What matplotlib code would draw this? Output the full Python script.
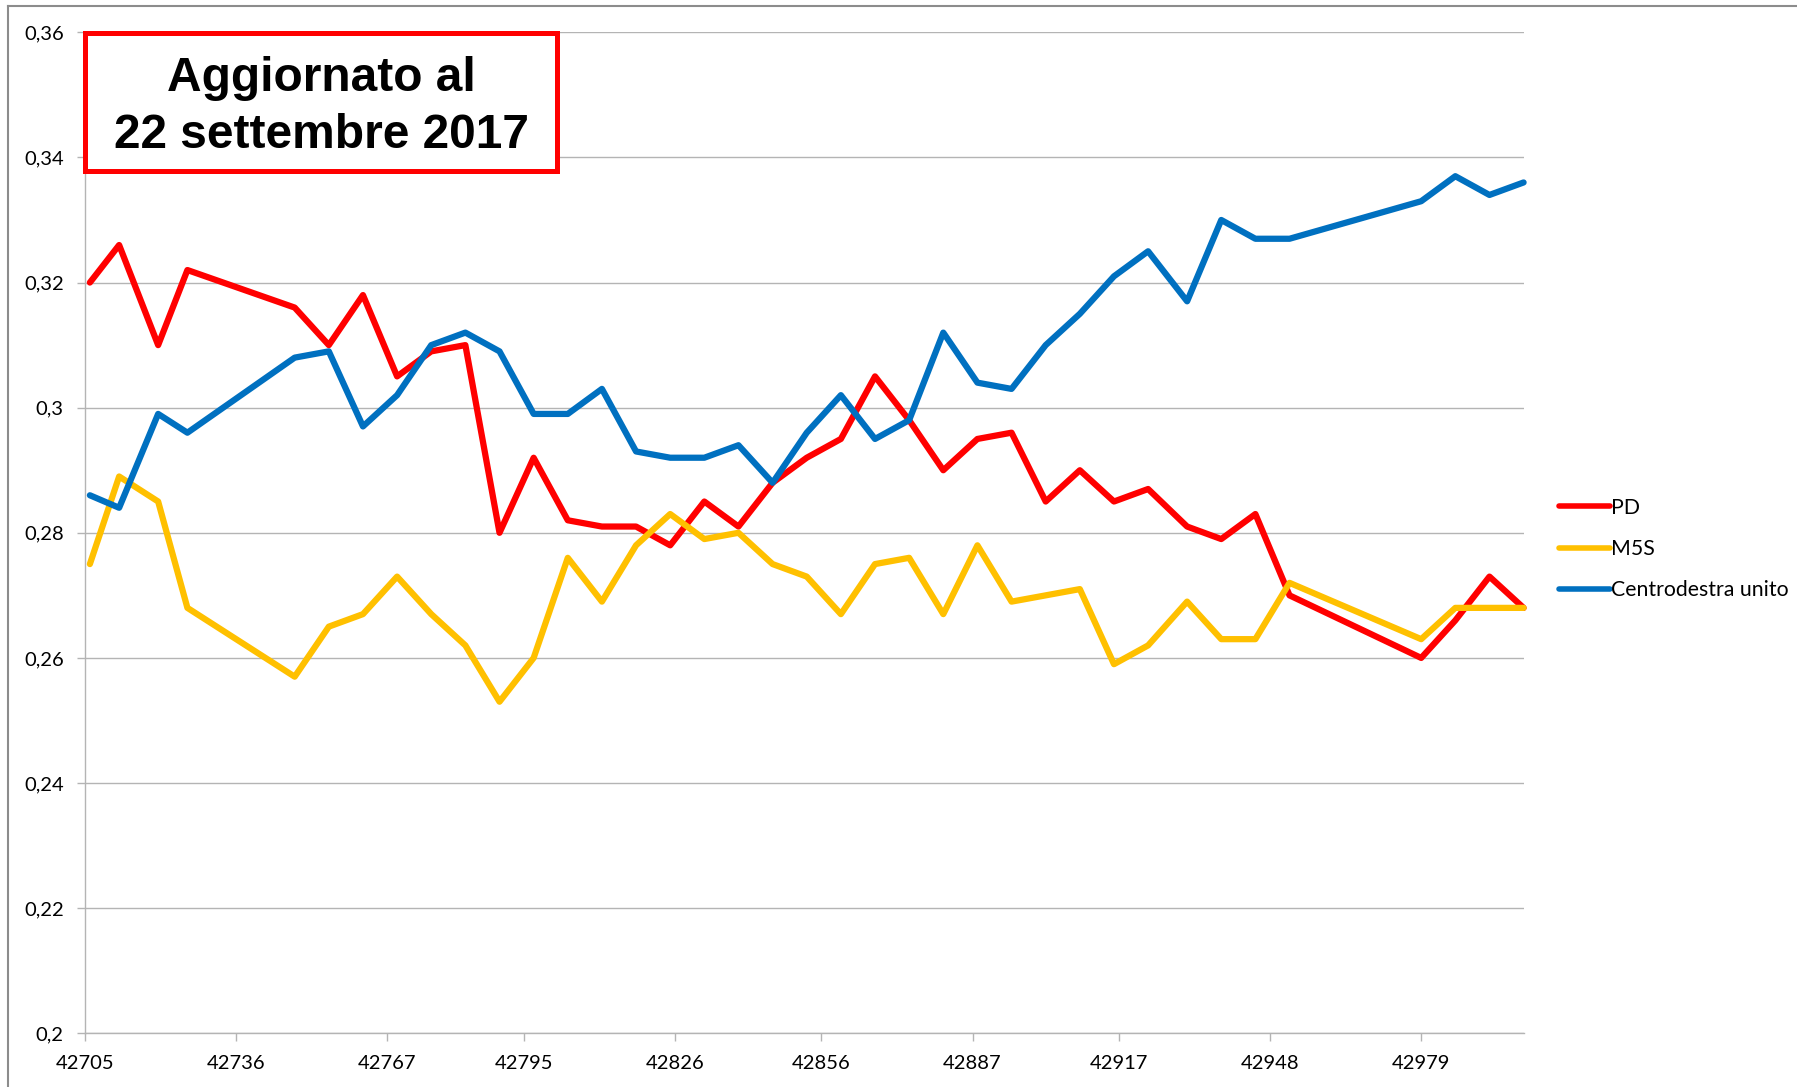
import matplotlib
matplotlib.use("Agg")
import matplotlib.pyplot as plt
from matplotlib.lines import Line2D
from matplotlib.patches import Rectangle
from matplotlib.ticker import FixedLocator, FuncFormatter

# ---- data ----
dates = [42706, 42712, 42720, 42726, 42748, 42755, 42762, 42769, 42776, 42783,
         42790, 42797, 42804, 42811, 42818, 42825, 42832, 42839, 42846, 42853,
         42860, 42867, 42874, 42881, 42888, 42895, 42902, 42909, 42916, 42923,
         42931, 42938, 42945, 42952, 42979, 42986, 42993, 43000]

pd_vals = [0.320, 0.326, 0.310, 0.322, 0.316, 0.310, 0.318, 0.305, 0.309, 0.310,
           0.280, 0.292, 0.282, 0.281, 0.281, 0.278, 0.285, 0.281, 0.288, 0.292,
           0.295, 0.305, 0.298, 0.290, 0.295, 0.296, 0.285, 0.290, 0.285, 0.287,
           0.281, 0.279, 0.283, 0.270, 0.260, 0.266, 0.273, 0.268]

m5s_vals = [0.275, 0.289, 0.285, 0.268, 0.257, 0.265, 0.267, 0.273, 0.267, 0.262,
            0.253, 0.260, 0.276, 0.269, 0.278, 0.283, 0.279, 0.280, 0.275, 0.273,
            0.267, 0.275, 0.276, 0.267, 0.278, 0.269, 0.270, 0.271, 0.259, 0.262,
            0.269, 0.263, 0.263, 0.272, 0.263, 0.268, 0.268, 0.268]

cdx_vals = [0.286, 0.284, 0.299, 0.296, 0.308, 0.309, 0.297, 0.302, 0.310, 0.312,
            0.309, 0.299, 0.299, 0.303, 0.293, 0.292, 0.292, 0.294, 0.288, 0.296,
            0.302, 0.295, 0.298, 0.312, 0.304, 0.303, 0.310, 0.315, 0.321, 0.325,
            0.317, 0.330, 0.327, 0.327, 0.333, 0.337, 0.334, 0.336]

series_names = ["PD", "M5S", "Centrodestra unito"]
series_colors = ["#FF0000", "#FFC000", "#0070C0"]

x_ticks = [42705, 42736, 42767, 42795, 42826, 42856, 42887, 42917, 42948, 42979]
y_ticks = [0.20, 0.22, 0.24, 0.26, 0.28, 0.30, 0.32, 0.34, 0.36]

title_lines = ["Aggiornato al", "22 settembre 2017"]

# ---- figure ----
W, H = 1797, 1087
fig = plt.figure(figsize=(W / 100, H / 100), dpi=100)
fig.patch.set_facecolor("white")

def fx(px):
    return px / W

def fy(py):
    return 1 - py / H

left, right, top, bottom = 85, 1523.6, 32.3, 1033.3
ax = fig.add_axes([fx(left), fy(bottom), fx(right - left), (bottom - top) / H])

grid_c = "#B4B4B4"
tick_font = "Lato"

for vals, name, col in zip([pd_vals, m5s_vals, cdx_vals], series_names, series_colors):
    ax.plot(dates, vals, color=col, lw=4.5, solid_capstyle="round",
            solid_joinstyle="round", label=name, clip_on=False, zorder=3)

ax.set_xlim(42705, 43000)
ax.set_ylim(0.2, 0.36)
ax.xaxis.set_major_locator(FixedLocator(x_ticks))
ax.yaxis.set_major_locator(FixedLocator(y_ticks))
ax.xaxis.set_major_formatter(FuncFormatter(lambda v, p: f"{int(round(v))}"))

def yfmt(v, p):
    s = f"{v:.2f}".rstrip("0").rstrip(".")
    return s.replace(".", ",")

ax.yaxis.set_major_formatter(FuncFormatter(yfmt))

ax.grid(axis="y", color=grid_c, lw=1.0, zorder=0)
for s in ["top", "right"]:
    ax.spines[s].set_visible(False)
for s in ["left", "bottom"]:
    ax.spines[s].set_color(grid_c)
    ax.spines[s].set_linewidth(1.0)
    ax.spines[s].set_zorder(1)

ax.tick_params(axis="both", direction="out", length=5.8, width=1.0, color=grid_c,
               labelsize=14.5, labelcolor="#000000")
ax.tick_params(axis="y", pad=9.5)
ax.tick_params(axis="x", pad=10)
for lbl in ax.get_xticklabels() + ax.get_yticklabels():
    lbl.set_fontfamily(tick_font)

# ---- title box ----
box = Rectangle((fx(85), fy(171)), fx(557 - 85), (171 - 32.5) / H,
                transform=fig.transFigure, fill=True, facecolor="white",
                edgecolor="#FF0000", lw=3.6, zorder=10, joinstyle="miter")
fig.patches.append(box)
cx = fx(321)
fig.text(cx, fy(91), title_lines[0], ha="center", va="baseline",
         fontsize=34.5, fontweight="bold", family="Liberation Sans", zorder=11)
fig.text(cx, fy(148), title_lines[1], ha="center", va="baseline",
         fontsize=34.5, fontweight="bold", family="Liberation Sans", zorder=11)

# ---- legend ----
handles = [Line2D([0], [0], color=c, lw=4.0, solid_capstyle="round") for c in series_colors]
leg = fig.legend(handles, series_names, loc="center left",
                 bbox_to_anchor=(fx(1559), fy(549)), frameon=False,
                 prop={"family": tick_font, "size": 15.3},
                 handlelength=2.4, handletextpad=0.05, labelspacing=1.0,
                 borderpad=0, borderaxespad=0)

# ---- outer border (left & top visible) ----
fig.add_artist(Line2D([fx(8.3), fx(8.3)], [fy(6), 0], transform=fig.transFigure,
                      color="#8C8C8C", lw=1.5))
fig.add_artist(Line2D([fx(8.3), 1], [fy(6), fy(6)], transform=fig.transFigure,
                      color="#8C8C8C", lw=1.5))

fig.savefig("out.png", dpi=100, facecolor="white")
